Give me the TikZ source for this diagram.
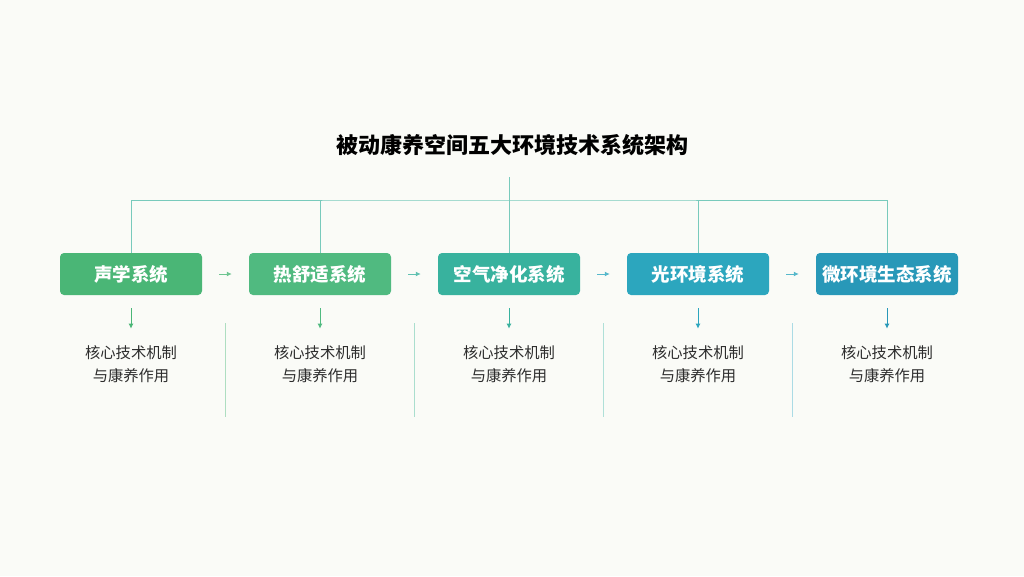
\documentclass[tikz,border=0pt]{standalone}
\usepackage{fontspec}
\setmainfont{Noto Sans CJK SC}
\usetikzlibrary{positioning,arrows.meta}
\definecolor{bgwhite}{RGB}{250,251,247}
\definecolor{acousticgreen}{RGB}{74,182,118}
\definecolor{thermalgreen}{RGB}{80,186,128}
\definecolor{airteal}{RGB}{56,178,158}
\definecolor{lightcyan}{RGB}{44,166,190}
\definecolor{microblue}{RGB}{40,152,184}
\definecolor{treeteal}{RGB}{120,202,188}
\definecolor{bodygray}{RGB}{45,45,45}

\tikzset{
    sysbox/.style={rounded corners=4pt, minimum width=142pt, minimum height=42pt, inner sep=0pt,
        text=white, font=\bfseries\fontsize{18.5}{22}\selectfont},
    bodytext/.style={align=center, inner sep=0pt, text=bodygray, font=\fontsize{15.3}{23}\selectfont},
    flowarrow/.style={-{Latex[length=5pt,width=5pt]}, line width=1pt, shorten <=17pt, shorten >=17pt},
    downarrow/.style={-{Latex[length=5pt,width=5pt]}, line width=1pt, shorten <=13pt, shorten >=17pt},
    treeline/.style={draw=treeteal, line width=1pt},
    sepline/.style={line width=0.9pt}
}

\begin{document}
\begin{tikzpicture}[x=1pt, y=-1pt]
        % canvas
        \fill[bgwhite] (0,0) rectangle (1024,576);
        \useasboundingbox (0,0) rectangle (1024,576);

        % Title and tree hub
        \node[font=\bfseries\fontsize{22}{26}\selectfont, text=black] (title) at (512,145) {被动康养空间五大环境技术系统架构};
        \coordinate (hub) at (509,177);
        \coordinate (bar) at (509,200);

        % Five system boxes
        \node[sysbox, fill=acousticgreen] (s1) at (131,274) {声学系统};
        \node[sysbox, fill=thermalgreen] (s2) at (320,274) {热舒适系统};
        \node[sysbox, fill=airteal] (s3) at (509,274) {空气净化系统};
        \node[sysbox, fill=lightcyan] (s4) at (698,274) {光环境系统};
        \node[sysbox, fill=microblue] (s5) at (887,274) {微环境生态系统};

        % Tree connectors
        \draw[treeline] (hub) -- (bar);
        \draw[treeline] (s1.north) |- (bar) -| (s5.north);
        \draw[treeline] (bar -| s2.north) -- (s2.north);
        \draw[treeline] (bar) -- (s3.north);
        \draw[treeline] (bar -| s4.north) -- (s4.north);

        % Flow between systems
        \draw[flowarrow, acousticgreen!80] (s1.east) -- (s2.west);
        \draw[flowarrow, airteal!80] (s2.east) -- (s3.west);
        \draw[flowarrow, lightcyan!80] (s3.east) -- (s4.west);
        \draw[flowarrow, lightcyan!80] (s4.east) -- (s5.west);

        % Mechanism texts
        \node[bodytext] (b1) at (131,364.5) {核心技术机制\\与康养作用};
        \node[bodytext] (b2) at (320,364.5) {核心技术机制\\与康养作用};
        \node[bodytext] (b3) at (509,364.5) {核心技术机制\\与康养作用};
        \node[bodytext] (b4) at (698,364.5) {核心技术机制\\与康养作用};
        \node[bodytext] (b5) at (887,364.5) {核心技术机制\\与康养作用};

        \draw[downarrow, acousticgreen] (s1.south) -- (b1.north);
        \draw[downarrow, thermalgreen] (s2.south) -- (b2.north);
        \draw[downarrow, airteal] (s3.south) -- (b3.north);
        \draw[downarrow, lightcyan] (s4.south) -- (b4.north);
        \draw[downarrow, microblue] (s5.south) -- (b5.north);

        % Column separators
        \draw[sepline, acousticgreen!45] (225,323) -- (225,417);
        \draw[sepline, thermalgreen!40!airteal!45] (414,323) -- (414,417);
        \draw[sepline, airteal!40] (603,323) -- (603,417);
        \draw[sepline, lightcyan!40] (792,323) -- (792,417);
    \end{tikzpicture}
\end{document}
